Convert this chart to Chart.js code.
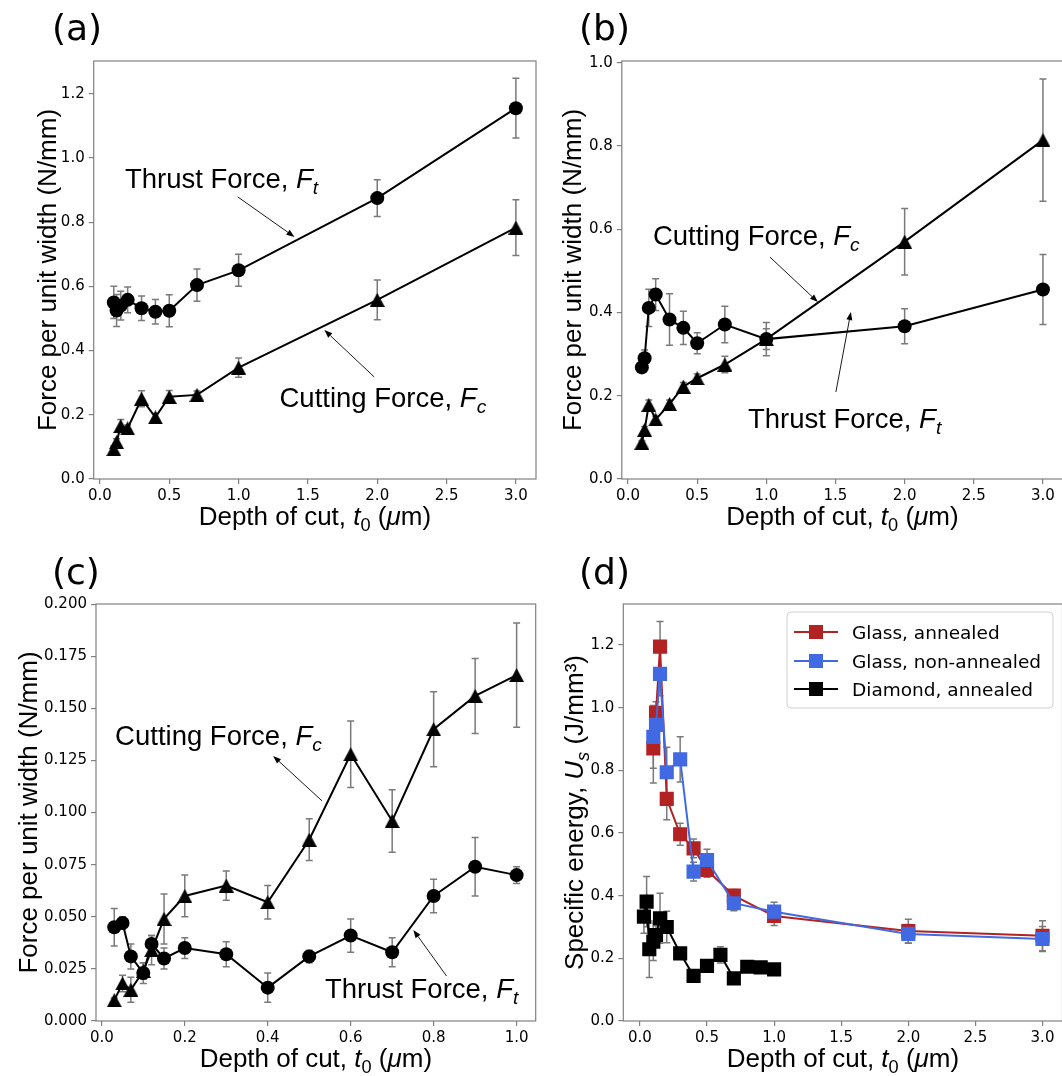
<!DOCTYPE html>
<html><head><meta charset="utf-8">
<script src="https://cdn.jsdelivr.net/npm/chart.js@4.4.1/dist/chart.umd.min.js"></script>
<style>
html,body{margin:0;padding:0;background:#fff;}
body{width:1062px;height:1076px;overflow:hidden;position:relative;}
canvas{position:absolute;}
</style></head><body>
<script>
// ---------------- DATA ----------------
// Panel (a)
const aX = [0.1, 0.12, 0.15, 0.2, 0.3, 0.4, 0.5, 0.7, 1.0, 2.0, 3.0];
const aThrust = [0.550, 0.525, 0.540, 0.558, 0.532, 0.521, 0.524, 0.604, 0.650, 0.875, 1.155];
const aThrustErr = [0.05, 0.05, 0.045, 0.04, 0.038, 0.038, 0.05, 0.05, 0.05, 0.057, 0.093];
const aCutting = [0.093, 0.115, 0.165, 0.158, 0.250, 0.192, 0.256, 0.262, 0.347, 0.558, 0.783];
const aCuttingErr = [0.01, 0.01, 0.02, 0.01, 0.025, 0.012, 0.02, 0.012, 0.03, 0.062, 0.087];
const aXTicks = [0, 0.5, 1.0, 1.5, 2.0, 2.5, 3.0];
const aYTicks = [0, 0.2, 0.4, 0.6, 0.8, 1.0, 1.2];
// Panel (b)
const bX = [0.1, 0.12, 0.15, 0.2, 0.3, 0.4, 0.5, 0.7, 1.0, 2.0, 3.0];
const bThrust = [0.268, 0.290, 0.411, 0.443, 0.383, 0.363, 0.326, 0.371, 0.336, 0.367, 0.455];
const bThrustErr = [0.004, 0.02, 0.045, 0.038, 0.062, 0.04, 0.025, 0.044, 0.04, 0.042, 0.084];
const bCutting = [0.087, 0.118, 0.178, 0.143, 0.180, 0.222, 0.242, 0.275, 0.336, 0.570, 0.814];
const bCuttingErr = [0.004, 0.008, 0.012, 0.008, 0.01, 0.01, 0.01, 0.02, 0.025, 0.08, 0.147];
const bXTicks = [0, 0.5, 1.0, 1.5, 2.0, 2.5, 3.0];
const bYTicks = [0, 0.2, 0.4, 0.6, 0.8, 1.0];
// Panel (c)
const cX = [0.03, 0.05, 0.07, 0.1, 0.12, 0.15, 0.2, 0.3, 0.4, 0.5, 0.6, 0.7, 0.8, 0.9, 1.0];
const cThrust = [0.045, 0.047, 0.031, 0.023, 0.037, 0.030, 0.035, 0.032, 0.016, 0.031, 0.041, 0.033, 0.060, 0.074, 0.070];
const cThrustErr = [0.009, 0.003, 0.006, 0.005, 0.004, 0.005, 0.005, 0.006, 0.007, 0.003, 0.008, 0.007, 0.008, 0.014, 0.004];
const cCutting = [0.010, 0.018, 0.015, 0.024, 0.034, 0.049, 0.060, 0.065, 0.057, 0.087, 0.128, 0.096, 0.140, 0.156, 0.166];
const cCuttingErr = [0.001, 0.004, 0.006, 0.004, 0.007, 0.012, 0.010, 0.007, 0.008, 0.010, 0.016, 0.015, 0.018, 0.018, 0.025];
const cXTicks = [0, 0.2, 0.4, 0.6, 0.8, 1.0];
const cYTicks = [0, 0.025, 0.05, 0.075, 0.1, 0.125, 0.15, 0.175, 0.2];
// Panel (d)
const dX = [0.1, 0.12, 0.15, 0.2, 0.3, 0.4, 0.5, 0.7, 1.0, 2.0, 3.0];
const dGlassAnn = [0.870, 0.984, 1.195, 0.709, 0.596, 0.551, 0.482, 0.400, 0.335, 0.287, 0.272];
const dGlassAnnErr = [0.11, 0.035, 0.08, 0.067, 0.035, 0.03, 0.023, 0.02, 0.03, 0.038, 0.048];
const dGlassNon = [0.907, 0.945, 1.108, 0.794, 0.835, 0.477, 0.514, 0.376, 0.349, 0.278, 0.262];
const dGlassNonErr = [0.10, 0.03, 0.07, 0.08, 0.072, 0.03, 0.034, 0.024, 0.03, 0.03, 0.04];
const dDiaX = [0.03, 0.05, 0.07, 0.1, 0.12, 0.15, 0.2, 0.3, 0.4, 0.5, 0.6, 0.7, 0.8, 0.9, 1.0];
const dDiamond = [0.333, 0.381, 0.229, 0.253, 0.274, 0.328, 0.300, 0.216, 0.144, 0.176, 0.211, 0.136, 0.173, 0.171, 0.165];
const dDiamondErr = [0.053, 0.08, 0.09, 0.06, 0.03, 0.08, 0.05, 0.01, 0.008, 0.01, 0.026, 0.008, 0.01, 0.008, 0.012];
const dXTicks = [0, 0.5, 1.0, 1.5, 2.0, 2.5, 3.0];
const dYTicks = [0, 0.2, 0.4, 0.6, 0.8, 1.0, 1.2];
const dLegend = ['Glass, annealed', 'Glass, non-annealed', 'Diamond, annealed'];

// ---------------- STYLE ----------------
const GRAY = '#808080';
const ERR = '#7a7a7a';
const RED = '#b22222';
const BLUE = '#4169e1';
const ARIAL = '"Liberation Sans", Arial, sans-serif';
const DEJAVU = '"DejaVu Sans", sans-serif';

function triImg(w, h, color) {
  const c = document.createElement('canvas');
  c.width = w; c.height = h;
  const g = c.getContext('2d');
  g.fillStyle = color;
  g.beginPath(); g.moveTo(w / 2, 0); g.lineTo(w, h); g.lineTo(0, h); g.closePath(); g.fill();
  return c;
}
const TRI = triImg(15, 14, '#000');

function pts(xs, ys) { return xs.map((x, i) => ({ x: x, y: ys[i] })); }

function circleSet(xs, ys, errs) {
  return { data: pts(xs, ys), errors: errs, showLine: true, borderColor: '#000', borderWidth: 2,
    pointStyle: 'circle', pointRadius: 7, pointBackgroundColor: '#000', pointBorderColor: '#000', pointBorderWidth: 0, order: 1 };
}
function triSet(xs, ys, errs) {
  return { data: pts(xs, ys), errors: errs, showLine: true, borderColor: '#000', borderWidth: 2,
    pointStyle: TRI, pointRadius: 7, order: 2 };
}
function sqSet(xs, ys, errs, color, order) {
  return { data: pts(xs, ys), errors: errs, showLine: true, borderColor: color, borderWidth: 2,
    pointStyle: 'rect', pointRadius: 10, pointBackgroundColor: color, pointBorderColor: color, pointBorderWidth: 0, order: order };
}

// ---------------- PLUGINS ----------------
const errPlugin = {
  id: 'errbars',
  beforeDatasetsDraw(chart) {
    const ctx = chart.ctx, xs = chart.scales.x, ys = chart.scales.y;
    ctx.save();
    ctx.strokeStyle = ERR; ctx.lineWidth = 1.5;
    chart.data.datasets.forEach(ds => {
      if (!ds.errors) return;
      ds.data.forEach((p, i) => {
        const e = ds.errors[i];
        if (!e) return;
        const px = xs.getPixelForValue(p.x);
        const y1 = ys.getPixelForValue(p.y + e), y2 = ys.getPixelForValue(p.y - e);
        ctx.beginPath();
        ctx.moveTo(px, y1); ctx.lineTo(px, y2);
        ctx.moveTo(px - 3.5, y1); ctx.lineTo(px + 3.5, y1);
        ctx.moveTo(px - 3.5, y2); ctx.lineTo(px + 3.5, y2);
        ctx.stroke();
      });
    });
    ctx.restore();
  }
};

function fontOf(p, size, fam) {
  const s = (p.sub || p.sup) ? size * 0.7 : size;
  return (p.it ? 'italic ' : '') + s + 'px ' + fam;
}
function richWidth(ctx, parts, size, fam) {
  let w = 0;
  parts.forEach(p => { ctx.font = fontOf(p, size, fam); w += ctx.measureText(p.t).width; });
  return w;
}
function drawRich(ctx, x, y, parts, size, fam) {
  let cx = x;
  parts.forEach(p => {
    ctx.font = fontOf(p, size, fam);
    const dy = p.sub ? size * 0.22 : (p.sup ? -size * 0.42 : 0);
    ctx.fillText(p.t, cx, y + dy);
    cx += ctx.measureText(p.t).width;
  });
}
function arrow(ctx, x1, y1, x2, y2) {
  const ang = Math.atan2(y2 - y1, x2 - x1);
  const L = 8, W = 3;
  const bx = x2 - L * Math.cos(ang), by = y2 - L * Math.sin(ang);
  ctx.beginPath(); ctx.moveTo(x1, y1); ctx.lineTo(bx, by); ctx.stroke();
  ctx.beginPath(); ctx.moveTo(x2, y2);
  ctx.lineTo(bx - W * Math.sin(ang), by + W * Math.cos(ang));
  ctx.lineTo(bx + W * Math.sin(ang), by - W * Math.cos(ang));
  ctx.closePath(); ctx.fill();
}

function decoPlugin(d) {
  return {
    id: 'deco',
    afterDraw(chart) {
      const ctx = chart.ctx, a = chart.chartArea, xs = chart.scales.x, ys = chart.scales.y;
      const ox = d.box[0], oy = d.box[1];
      ctx.save();
      // spines
      ctx.strokeStyle = GRAY; ctx.lineWidth = 1.2;
      ctx.strokeRect(a.left, a.top, a.right - a.left, a.bottom - a.top);
      ctx.fillStyle = '#000'; ctx.strokeStyle = '#000';
      ctx.textBaseline = 'alphabetic'; ctx.textAlign = 'left';
      // panel label
      ctx.font = '36px ' + DEJAVU;
      ctx.fillText(d.label, d.labelPos[0] - ox, d.labelPos[1] - oy);
      // x title
      const xt = d.xTitle;
      const wx = richWidth(ctx, xt, 26, ARIAL);
      drawRich(ctx, (a.left + a.right) / 2 - wx / 2, a.bottom + 46, xt, 26, ARIAL);
      // y title
      const yt = d.yTitle;
      const wy = richWidth(ctx, yt, 26, ARIAL);
      ctx.save();
      ctx.translate(d.yTitleX - ox, (a.top + a.bottom) / 2);
      ctx.rotate(-Math.PI / 2);
      drawRich(ctx, -wy / 2, 0, yt, 26, ARIAL);
      ctx.restore();
      // annotations
      (d.notes || []).forEach(n => {
        drawRich(ctx, xs.getPixelForValue(n.x), ys.getPixelForValue(n.y), n.parts, 27.5, ARIAL);
        ctx.lineWidth = 0.9;
        arrow(ctx, xs.getPixelForValue(n.arrow[0]), ys.getPixelForValue(n.arrow[1]),
                   xs.getPixelForValue(n.arrow[2]), ys.getPixelForValue(n.arrow[3]));
      });
      // legend
      if (d.legend) {
        const L = d.legend;
        const lx = L.box[0] - ox, ly = L.box[1] - oy, lw = L.box[2], lh = L.box[3];
        ctx.fillStyle = 'rgba(255,255,255,0.85)';
        ctx.strokeStyle = '#d0d0d0'; ctx.lineWidth = 1;
        ctx.beginPath();
        if (ctx.roundRect) ctx.roundRect(lx, ly, lw, lh, 4); else ctx.rect(lx, ly, lw, lh);
        ctx.fill(); ctx.stroke();
        L.items.forEach((it, i) => {
          const cy = L.rowY[i] - oy;
          ctx.strokeStyle = it.color; ctx.lineWidth = 2;
          ctx.beginPath(); ctx.moveTo(L.handle[0] - ox, cy); ctx.lineTo(L.handle[1] - ox, cy); ctx.stroke();
          const mx = (L.handle[0] + L.handle[1]) / 2 - ox;
          ctx.fillStyle = it.color;
          ctx.fillRect(mx - 7, cy - 7, 14, 14);
          ctx.fillStyle = '#000';
          ctx.font = L.font;
          ctx.fillText(it.text, L.textX - ox, cy + 6.5);
        });
      }
      ctx.restore();
    }
  };
}

function makePanel(d) {
  const box = d.box, area = d.area;
  const cv = document.createElement('canvas');
  cv.width = box[2]; cv.height = box[3];
  cv.style.left = box[0] + 'px'; cv.style.top = box[1] + 'px';
  cv.style.width = box[2] + 'px'; cv.style.height = box[3] + 'px';
  document.body.appendChild(cv);
  const tickFont = { family: '"DejaVu Sans"', size: 15 };
  const gridOpt = { display: true, drawOnChartArea: false, drawTicks: true, tickLength: 5, color: GRAY, lineWidth: 1.2 };
  new Chart(cv, {
    type: 'scatter',
    data: { datasets: d.datasets },
    options: {
      responsive: false, animation: false, devicePixelRatio: 1,
      layout: { padding: { left: 0, top: area[1] - box[1], right: box[0] + box[2] - area[2], bottom: 0 } },
      plugins: { legend: { display: false }, tooltip: { enabled: false } },
      elements: { line: { tension: 0 } },
      scales: {
        x: {
          type: 'linear', min: d.xr[0], max: d.xr[1],
          afterBuildTicks: s => { s.ticks = d.xTicks.map(v => ({ value: v })); },
          afterFit: s => { s.height = box[1] + box[3] - area[3]; },
          grid: gridOpt, border: { display: false },
          ticks: { padding: 3, color: '#000', font: tickFont, autoSkip: false, maxRotation: 0,
            callback: v => Number(v).toFixed(d.xDec) }
        },
        y: {
          type: 'linear', min: d.yr[0], max: d.yr[1],
          afterBuildTicks: s => { s.ticks = d.yTicks.map(v => ({ value: v })); },
          afterFit: s => { s.width = area[0] - box[0]; },
          grid: gridOpt, border: { display: false },
          ticks: { padding: 4, color: '#000', font: tickFont, autoSkip: false,
            callback: v => Number(v).toFixed(d.yDec) }
        }
      }
    },
    plugins: [errPlugin, decoPlugin(d)]
  });
}

const xTitle = [{ t: 'Depth of cut, ' }, { t: 't', it: true }, { t: '0', sub: true }, { t: ' (' }, { t: 'μ', it: true }, { t: 'm)' }];
const forceTitle = [{ t: 'Force per unit width (N/mm)' }];
const thrustTxt = [{ t: 'Thrust Force, ' }, { t: 'F', it: true }, { t: 't', it: true, sub: true }];
const cuttingTxt = [{ t: 'Cutting Force, ' }, { t: 'F', it: true }, { t: 'c', it: true, sub: true }];

// (a)
makePanel({
  box: [0, 0, 545, 540], area: [93.7, 61, 537, 479],
  xr: [-0.045, 3.145], yr: [0, 1.302], xTicks: aXTicks, yTicks: aYTicks, xDec: 1, yDec: 1,
  datasets: [circleSet(aX, aThrust, aThrustErr), triSet(aX, aCutting, aCuttingErr)],
  label: '(a)', labelPos: [52, 40], xTitle: xTitle, yTitle: forceTitle, yTitleX: 56,
  notes: [
    { parts: thrustTxt, x: 0.18, y: 0.906, arrow: [0.993, 0.879, 1.403, 0.754] },
    { parts: cuttingTxt, x: 1.295, y: 0.224, arrow: [1.978, 0.318, 1.619, 0.464] }
  ]
});
// (b)
makePanel({
  box: [545, 0, 530, 540], area: [621.8, 61, 1063, 479],
  xr: [-0.045, 3.145], yr: [0, 1.004], xTicks: bXTicks, yTicks: bYTicks, xDec: 1, yDec: 1,
  datasets: [circleSet(bX, bThrust, bThrustErr), triSet(bX, bCutting, bCuttingErr)],
  label: '(b)', labelPos: [579, 40], xTitle: xTitle, yTitle: forceTitle, yTitleX: 581,
  notes: [
    { parts: cuttingTxt, x: 0.18, y: 0.562, arrow: [1.026, 0.533, 1.373, 0.425] },
    { parts: thrustTxt, x: 0.867, y: 0.122, arrow: [1.503, 0.209, 1.611, 0.401] }
  ]
});
// (c)
makePanel({
  box: [0, 545, 545, 531], area: [96, 604, 535.7, 1021],
  xr: [-0.014, 1.046], yr: [0, 0.2001], xTicks: cXTicks, yTicks: cYTicks, xDec: 1, yDec: 3,
  datasets: [circleSet(cX, cThrust, cThrustErr), triSet(cX, cCutting, cCuttingErr)],
  label: '(c)', labelPos: [52, 584], xTitle: xTitle, yTitle: forceTitle, yTitleX: 37,
  notes: [
    { parts: cuttingTxt, x: 0.032, y: 0.1325, arrow: [0.531, 0.1056, 0.413, 0.1272] },
    { parts: thrustTxt, x: 0.538, y: 0.011, arrow: [0.831, 0.0216, 0.751, 0.0437] }
  ]
});
// (d)
makePanel({
  box: [545, 545, 530, 531], area: [623.3, 604, 1062.5, 1021],
  xr: [-0.1237, 3.149], yr: [0, 1.331], xTicks: dXTicks, yTicks: dYTicks, xDec: 1, yDec: 1,
  datasets: [
    sqSet(dX, dGlassAnn, dGlassAnnErr, RED, 3),
    sqSet(dX, dGlassNon, dGlassNonErr, BLUE, 2),
    sqSet(dDiaX, dDiamond, dDiamondErr, '#000', 1)
  ],
  label: '(d)', labelPos: [579, 584], xTitle: xTitle,
  yTitle: [{ t: 'Specific energy, ' }, { t: 'U', it: true }, { t: 's', it: true, sub: true }, { t: ' (J/mm³)' }],
  yTitleX: 583,
  legend: {
    box: [787, 612, 266, 96], rowY: [632, 661, 689], handle: [794, 838], textX: 852,
    font: '18.5px ' + DEJAVU,
    items: [{ text: dLegend[0], color: RED }, { text: dLegend[1], color: BLUE }, { text: dLegend[2], color: '#000' }]
  }
});
</script>
</body></html>
